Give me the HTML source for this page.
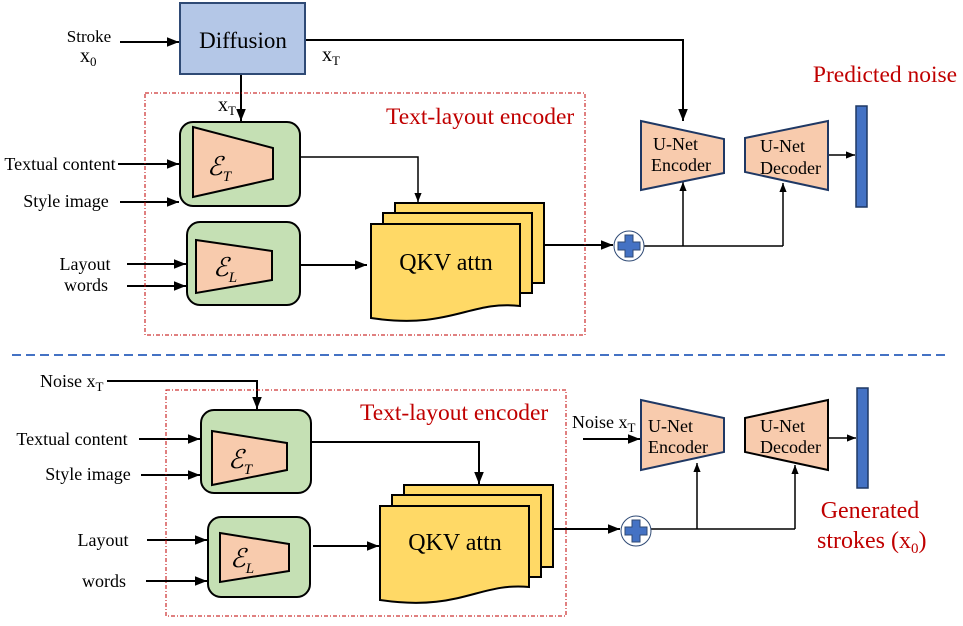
<!DOCTYPE html>
<html><head><meta charset="utf-8"><style>
html,body{margin:0;padding:0;background:#fff;}
svg{display:block;}
text{font-family:"Liberation Serif",serif;fill:#000;}
.r{fill:#c00000;}
</style></head><body>
<svg width="963" height="626" viewBox="0 0 963 626" xmlns="http://www.w3.org/2000/svg">
<defs>
<marker id="a" viewBox="0 0 10 10" refX="10" refY="5" markerWidth="6" markerHeight="6" orient="auto"><path d="M0,1 L10,5 L0,9 z" fill="#000"/></marker>
<g id="plus"><circle r="15" fill="#fff" stroke="#2f4a75" stroke-width="1"/><path d="M-4,-11 h8 v7 h7 v8 h-7 v7 h-8 v-7 h-7 v-8 h7 z" fill="#4472c4" stroke="#2f4a75" stroke-width="1"/></g>
</defs>
<g stroke="#000" stroke-width="2" fill="none">
<line x1="120" y1="42" x2="179" y2="42" marker-end="url(#a)"/>
<polyline points="305,40 683,40 683,121" marker-end="url(#a)"/>
<line x1="241" y1="74" x2="241" y2="121" marker-end="url(#a)"/>
<line x1="118" y1="164" x2="179" y2="164" marker-end="url(#a)"/>
<line x1="120" y1="202" x2="179" y2="202" marker-end="url(#a)"/>
<line x1="127" y1="264" x2="186" y2="264" marker-end="url(#a)"/>
<line x1="127" y1="286" x2="186" y2="286" marker-end="url(#a)"/>
<line x1="300" y1="265" x2="367" y2="265" marker-end="url(#a)"/>
<polyline points="300,157 418,157 418,202" stroke-width="1.5" marker-end="url(#a)"/>
<line x1="544" y1="245" x2="613" y2="245" marker-end="url(#a)"/>
<polyline points="644,246 783,246" stroke-width="1.5"/>
<line x1="683" y1="246" x2="683" y2="182" stroke-width="1.5" marker-end="url(#a)"/>
<line x1="783" y1="246" x2="783" y2="183" stroke-width="1.5" marker-end="url(#a)"/>
<line x1="828" y1="155" x2="855" y2="155" stroke-width="1.5" marker-end="url(#a)"/>
<polyline points="107,381 257,381 257,409" marker-end="url(#a)"/>
<line x1="139" y1="439" x2="200" y2="439" marker-end="url(#a)"/>
<line x1="141" y1="475" x2="200" y2="475" marker-end="url(#a)"/>
<line x1="147" y1="540" x2="207" y2="540" marker-end="url(#a)"/>
<line x1="146" y1="581" x2="207" y2="581" marker-end="url(#a)"/>
<line x1="313" y1="546" x2="379" y2="546" marker-end="url(#a)"/>
<polyline points="311,442 479,442 479,484" marker-end="url(#a)"/>
<line x1="553" y1="529" x2="620" y2="529" marker-end="url(#a)"/>
<polyline points="651,529 795,529" stroke-width="1.5"/>
<line x1="697" y1="529" x2="697" y2="463" stroke-width="1.5" marker-end="url(#a)"/>
<line x1="795" y1="529" x2="795" y2="465" stroke-width="1.5" marker-end="url(#a)"/>
<line x1="583" y1="439" x2="640" y2="439" marker-end="url(#a)"/>
<line x1="828" y1="438" x2="856" y2="438" stroke-width="1.5" marker-end="url(#a)"/>
</g>

<rect x="180" y="3" width="125" height="71" fill="#b4c7e7" stroke="#2f4a75" stroke-width="2"/>
<text x="243" y="48" font-size="23" text-anchor="middle">Diffusion</text>
<text x="89" y="42" font-size="17" text-anchor="middle">Stroke</text>
<text x="80" y="62" font-size="20">x<tspan font-size="13" dy="4">0</tspan></text>
<text x="322" y="61" font-size="20">x<tspan font-size="13" dy="4">T</tspan></text>
<text x="218" y="111" font-size="20">x<tspan font-size="13" dy="4">T</tspan></text>

<rect x="145" y="93" width="440" height="242" fill="none" stroke="#c00000" stroke-width="1" stroke-dasharray="4,2,1,2"/>
<text x="386" y="124" font-size="23.5" class="r">Text-layout encoder</text>
<rect x="166" y="390" width="400" height="226" fill="none" stroke="#c00000" stroke-width="1" stroke-dasharray="4,2,1,2"/>
<text x="360" y="420" font-size="23.5" class="r">Text-layout encoder</text>

<rect x="180" y="122" width="120" height="84" rx="13" fill="#c5e0b4" stroke="#000" stroke-width="2"/>
<polygon points="193,127 273,148 273,179 193,197" fill="#f8cbad" stroke="#000" stroke-width="2"/>
<text x="207" y="175" font-size="26" font-style="italic">ℰ<tspan font-size="15" dy="6">T</tspan></text>
<rect x="187" y="222" width="113" height="83" rx="13" fill="#c5e0b4" stroke="#000" stroke-width="2"/>
<polygon points="196,240 272,251 272,280 196,293" fill="#f8cbad" stroke="#000" stroke-width="2"/>
<text x="213" y="276" font-size="26" font-style="italic">ℰ<tspan font-size="15" dy="6">L</tspan></text>

<text x="60" y="170" font-size="18" text-anchor="middle">Textual content</text>
<text x="66" y="207" font-size="18" text-anchor="middle">Style image</text>
<text x="85" y="270" font-size="18" text-anchor="middle">Layout</text>
<text x="86" y="291" font-size="18" text-anchor="middle">words</text>

<rect x="395" y="203" width="149" height="80" fill="#ffd966" stroke="#000" stroke-width="2"/>
<rect x="383" y="213" width="149" height="80" fill="#ffd966" stroke="#000" stroke-width="2"/>
<path d="M371,224 H520 V306 C470,300 450,330 371,318 Z" fill="#ffd966" stroke="#000" stroke-width="2"/>
<text x="446" y="270" font-size="24" text-anchor="middle">QKV attn</text>

<use href="#plus" x="629" y="246"/>

<polygon points="641,121 724,139 724,173 641,190" fill="#f8cbad" stroke="#1f3864" stroke-width="2"/>
<text x="653" y="150" font-size="18">U-Net</text>
<text x="651" y="171" font-size="18">Encoder</text>
<polygon points="745,138 828,121 828,190 745,172" fill="#f8cbad" stroke="#1f3864" stroke-width="2"/>
<text x="760" y="152" font-size="18">U-Net</text>
<text x="760" y="174" font-size="18">Decoder</text>
<rect x="856" y="106" width="11" height="101" fill="#4472c4" stroke="#1f3864" stroke-width="1.5"/>
<text x="885" y="82" font-size="23.5" class="r" text-anchor="middle">Predicted noise</text>

<line x1="12" y1="355" x2="945" y2="355" stroke="#4472c4" stroke-width="2" stroke-dasharray="9,5"/>

<text x="40" y="387" font-size="18">Noise x<tspan font-size="13" dy="4">T</tspan></text>
<rect x="201" y="410" width="110" height="83" rx="13" fill="#c5e0b4" stroke="#000" stroke-width="2"/>
<polygon points="212,431 287,443 287,470 212,485" fill="#f8cbad" stroke="#000" stroke-width="2"/>
<text x="228" y="468" font-size="26" font-style="italic">ℰ<tspan font-size="15" dy="6">T</tspan></text>
<rect x="208" y="517" width="102" height="80" rx="13" fill="#c5e0b4" stroke="#000" stroke-width="2"/>
<polygon points="220,533 289,544 289,571 220,582" fill="#f8cbad" stroke="#000" stroke-width="2"/>
<text x="230" y="567" font-size="26" font-style="italic">ℰ<tspan font-size="15" dy="6">L</tspan></text>

<text x="72" y="445" font-size="18" text-anchor="middle">Textual content</text>
<text x="88" y="480" font-size="18" text-anchor="middle">Style image</text>
<text x="103" y="546" font-size="18" text-anchor="middle">Layout</text>
<text x="104" y="587" font-size="18" text-anchor="middle">words</text>

<rect x="404" y="485" width="149" height="82" fill="#ffd966" stroke="#000" stroke-width="2"/>
<rect x="392" y="495" width="149" height="82" fill="#ffd966" stroke="#000" stroke-width="2"/>
<path d="M380,506 H529 V587 C480,582 460,612 380,600 Z" fill="#ffd966" stroke="#000" stroke-width="2"/>
<text x="455" y="550" font-size="24" text-anchor="middle">QKV attn</text>

<use href="#plus" x="636" y="531"/>

<text x="572" y="428" font-size="18">Noise x<tspan font-size="13" dy="4">T</tspan></text>
<polygon points="641,400 724,418 724,452 641,470" fill="#f8cbad" stroke="#1f3864" stroke-width="2"/>
<text x="648" y="432" font-size="18">U-Net</text>
<text x="648" y="453" font-size="18">Encoder</text>
<polygon points="745,418 828,400 828,470 745,452" fill="#f8cbad" stroke="#000" stroke-width="2"/>
<text x="760" y="432" font-size="18">U-Net</text>
<text x="760" y="453" font-size="18">Decoder</text>
<rect x="857" y="388" width="11" height="100" fill="#4472c4" stroke="#1f3864" stroke-width="1.5"/>
<text x="870" y="518" font-size="24" class="r" text-anchor="middle">Generated</text>
<text x="817" y="548" font-size="24" class="r">strokes (x<tspan font-size="15" dy="5">0</tspan><tspan dy="-5">)</tspan></text>
</svg>
</body></html>
